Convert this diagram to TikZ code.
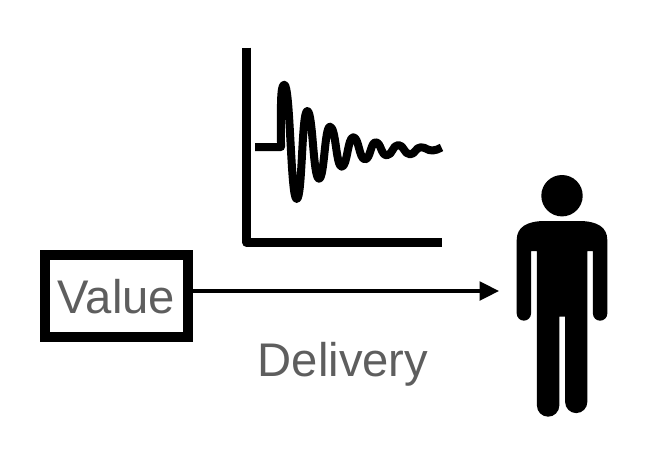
\documentclass[tikz,border=0pt]{standalone}
\usepackage{fontspec}
\setmainfont{Liberation Sans}
\usetikzlibrary{arrows.meta}
\definecolor{labelgray}{HTML}{5E5E5E}
\tikzset{
  px/.style={x=0.75pt,y=-0.75pt},
  lab/.style={text=labelgray,font=\fontsize{35.4}{40}\selectfont,inner sep=0pt,anchor=base},
  boxframe/.style={draw=black,line width=7.5pt,fill=white,minimum width=107.25pt,minimum height=61.5pt,inner sep=0pt,anchor=center},
  axis/.style={draw=black,line width=6.4pt,line cap=butt,line join=round},
  wave/.style={draw=black,line width=6pt,line join=round},
  conn/.style={draw=black,line width=2.4pt,-{Triangle[length=14.5pt,width=14pt]}},
}
\begin{document}
\begin{tikzpicture}[px]
\useasboundingbox (0,0) rectangle (652,457);
% boxed value
\node[boxframe] (box) at (116.5,296) {};
\node[lab] (value) at (116.5,313) {Value};
% person
\fill (562,195.7) circle[radius=20.7];
\fill (516.7,240) .. controls (516.7,227) and (527,221) .. (545,221)
  -- (579,221) .. controls (597,221) and (607.3,227) .. (607.3,240)
  -- (607.3,313.5) arc[start angle=0,end angle=180,radius=7.2] -- (592.9,251)
  -- (587.3,251) -- (587.3,402) arc[start angle=0,end angle=180,radius=11.1] -- (565,316.7)
  -- (559.3,316.7) -- (559.3,405.5) arc[start angle=0,end angle=180,radius=11.2] -- (536.9,251)
  -- (531,251) -- (531,313.5) arc[start angle=0,end angle=180,radius=7.15] -- cycle;
\coordinate (person) at (499,291);
% connector
\draw[conn] (box.east |- 0,291) -- (person);
\node[lab] (delivery) at (343,376) {Delivery};
% chart
\draw[axis] (246.6,47.5) -- (246.6,242.5) -- (441.5,242.5);
\draw[wave] (255,147) -- (281,147)
 .. controls (281,110) and (280,84.7) .. (284.3,84.7)
 .. controls (290.5,84.7) and (290.5,199) .. (296.7,199)
 .. controls (302.5,199) and (301.5,111) .. (307.3,111)
 .. controls (313,111) and (313,178.7) .. (319,178.7)
 .. controls (324.5,178.7) and (324.5,126.7) .. (330,126.7)
 .. controls (336,126.7) and (336,166.7) .. (341.7,166.7)
 .. controls (347.5,166.7) and (347.5,137.3) .. (353.3,137.3)
 .. controls (359,137.3) and (359,159.3) .. (365,159.3)
 .. controls (370.5,159.3) and (370.5,142.3) .. (375.7,142.3)
 .. controls (381,142.3) and (381,155.3) .. (386.7,155.3)
 .. controls (392.5,155.3) and (392.5,145) .. (398.3,145)
 .. controls (404,145) and (404,154.3) .. (410,154.3)
 .. controls (415.5,154.3) and (415.5,147.3) .. (420.7,147.3)
 .. controls (426.5,147.3) and (426.5,150.5) .. (432.7,150.5)
 .. controls (436,150.5) and (438,149) .. (441.5,147.5);
\end{tikzpicture}
\end{document}
